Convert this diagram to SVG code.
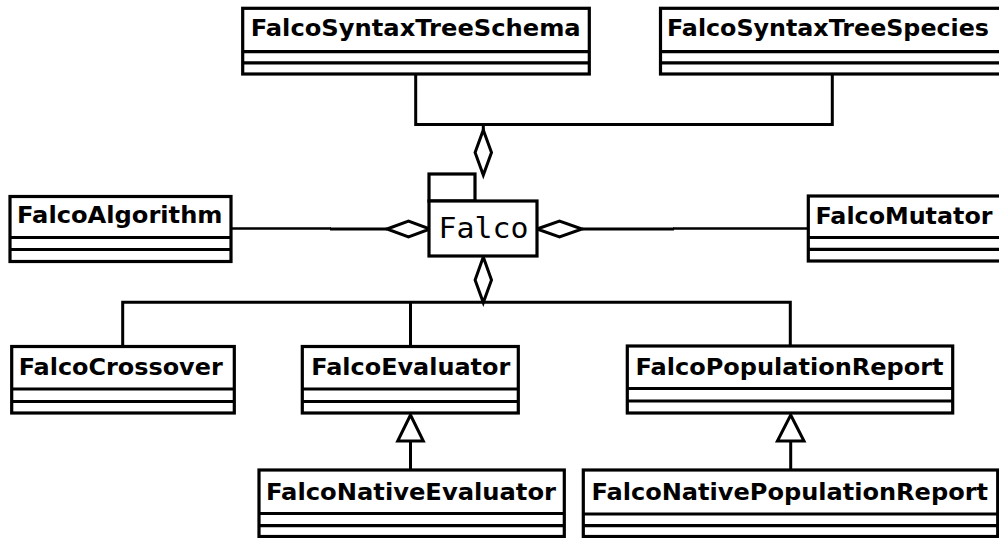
<svg xmlns="http://www.w3.org/2000/svg" width="999" height="538" viewBox="0 0 999 538">
  <style>
    .box { fill: #ffffff; stroke: #000000; stroke-width: 3.2; }
    .sep { fill: none; stroke: #000000; stroke-width: 3.2; }
    .name { font-family: "DejaVu Sans", "Liberation Sans", sans-serif; font-weight: bold; font-size: 23.5px; fill: #000000; }
    .pkg { font-family: "DejaVu Sans Mono", "Liberation Mono", monospace; font-size: 28.5px; fill: #000000; }
    .wire { fill: none; stroke: #000000; stroke-width: 3; }
    .head { fill: #ffffff; stroke: #000000; stroke-width: 3; stroke-linejoin: miter; }
  </style>

  <rect width="999" height="538" fill="#ffffff"/>

  <!-- connectors -->
  <g id="connectors">
    <!-- Schema / Species aggregated into Falco -->
    <polyline class="wire" points="415.7,74 415.7,124.5 832.3,124.5 832.3,74"/>
    <line class="wire" x1="483.3" y1="124.5" x2="483.3" y2="130"/>
    <polygon class="head" points="483.3,130 491.5,152.5 483.3,175 475.1,152.5"/>
    <!-- FalcoAlgorithm -->
    <line class="wire" x1="231" y1="228.5" x2="331" y2="228.5" style="stroke-width:2.6"/>
    <line class="wire" x1="330" y1="229" x2="387" y2="229"/>
    <polygon class="head" points="387,229 408.5,221.2 430,229 408.5,236.8"/>
    <!-- FalcoMutator -->
    <polygon class="head" points="537,229 559.5,221.2 582,229 559.5,236.8"/>
    <line class="wire" x1="582" y1="229" x2="674" y2="229"/>
    <line class="wire" x1="673" y1="228.5" x2="808" y2="228.5" style="stroke-width:2.6"/>
    <!-- lower bus -->
    <polygon class="head" points="483.3,257 491.5,280 483.3,302.5 475.1,280"/>
    <polyline class="wire" points="122.7,346.5 122.7,302.3 790.3,302.3 790.3,346"/>
    <line class="wire" x1="410.5" y1="302.3" x2="410.5" y2="346"/>
    <!-- generalisations -->
    <line class="wire" x1="410.5" y1="441" x2="410.5" y2="470"/>
    <polygon class="head" points="410.5,415 423.3,441 397.7,441"/>
    <line class="wire" x1="790.7" y1="441" x2="790.7" y2="470"/>
    <polygon class="head" points="790.7,415 804,441 777.4,441"/>
  </g>

  <!-- package -->
  <g id="Falco">
    <rect class="box" x="429" y="174" width="46" height="27"/>
    <rect class="box" x="429" y="201" width="108" height="55"/>
    <text class="pkg" x="438.5" y="238" textLength="90" lengthAdjust="spacingAndGlyphs">Falco</text>
  </g>

  <g id="FalcoSyntaxTreeSchema">
    <rect class="box" x="242.7" y="8.3" width="346.6" height="65.7"/>
    <path class="sep" d="M242.7 51.7H589.3M242.7 62.8H589.3"/>
    <text class="name" x="250.7" y="36.3" textLength="330" lengthAdjust="spacingAndGlyphs">FalcoSyntaxTreeSchema</text>
  </g>

  <g id="FalcoSyntaxTreeSpecies">
    <rect class="box" x="660.5" y="8.3" width="342" height="65.7"/>
    <path class="sep" d="M660.5 51.7H1002.5M660.5 62.8H1002.5"/>
    <text class="name" x="667" y="36.3" textLength="322" lengthAdjust="spacingAndGlyphs">FalcoSyntaxTreeSpecies</text>
  </g>

  <g id="FalcoAlgorithm">
    <rect class="box" x="10" y="196.5" width="221" height="65"/>
    <path class="sep" d="M10 237.5H231M10 249.5H231"/>
    <text class="name" x="17" y="222.5" textLength="205.5" lengthAdjust="spacingAndGlyphs">FalcoAlgorithm</text>
  </g>

  <g id="FalcoMutator">
    <rect class="box" x="808.3" y="196" width="194" height="65"/>
    <path class="sep" d="M808.3 237.5H1002.3M808.3 249.3H1002.3"/>
    <text class="name" x="815.5" y="224" textLength="177" lengthAdjust="spacingAndGlyphs">FalcoMutator</text>
  </g>

  <g id="FalcoCrossover">
    <rect class="box" x="11.7" y="346.5" width="222.6" height="66.5"/>
    <path class="sep" d="M11.7 389H234.3M11.7 401.5H234.3"/>
    <text class="name" x="18.7" y="375" textLength="204" lengthAdjust="spacingAndGlyphs">FalcoCrossover</text>
  </g>

  <g id="FalcoEvaluator">
    <rect class="box" x="302.3" y="346.5" width="216" height="66.5"/>
    <path class="sep" d="M302.3 389H518.3M302.3 401.5H518.3"/>
    <text class="name" x="311.3" y="375" textLength="199" lengthAdjust="spacingAndGlyphs">FalcoEvaluator</text>
  </g>

  <g id="FalcoPopulationReport">
    <rect class="box" x="627.3" y="346" width="325.4" height="67"/>
    <path class="sep" d="M627.3 388.5H952.7M627.3 401H952.7"/>
    <text class="name" x="635.5" y="374.5" textLength="308" lengthAdjust="spacingAndGlyphs">FalcoPopulationReport</text>
  </g>

  <g id="FalcoNativeEvaluator">
    <rect class="box" x="259" y="470" width="305.3" height="66.5"/>
    <path class="sep" d="M259 513.5H564.3M259 525.7H564.3"/>
    <text class="name" x="266" y="500" textLength="290" lengthAdjust="spacingAndGlyphs">FalcoNativeEvaluator</text>
  </g>

  <g id="FalcoNativePopulationReport">
    <rect class="box" x="583.3" y="470" width="414.4" height="66.5"/>
    <path class="sep" d="M583.3 514H997.7M583.3 525.7H997.7"/>
    <text class="name" x="591.5" y="500" textLength="396.5" lengthAdjust="spacingAndGlyphs">FalcoNativePopulationReport</text>
  </g>
</svg>
